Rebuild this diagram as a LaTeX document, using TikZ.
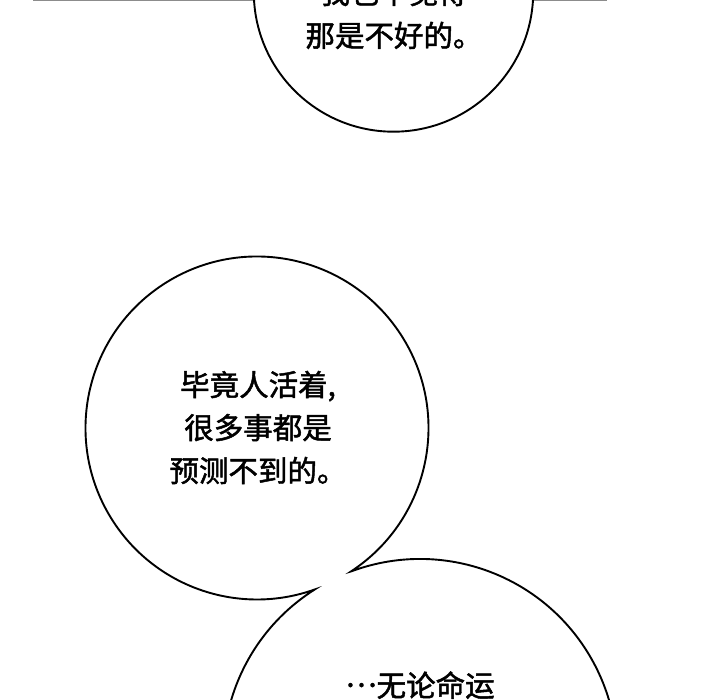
\documentclass[tikz,border=0pt]{standalone}
\usepackage{fontspec}
\newfontfamily\cjk[FakeBold=1.6]{Noto Sans CJK SC}
\begin{document}
\begin{tikzpicture}[x=1pt,y=1pt]
        \def\ra{139.7}
        \def\rb{171.5}
        \def\rc{197}
        \tikzset{bubble/.style={line width=1.9pt, miter limit=25},
                 words/.style={font=\cjk\fontsize{29.5}{43}\selectfont, align=center}}
        \useasboundingbox (0,0) rectangle (720,700);
        \draw [black!45, line width=1.4pt] (33,699.3) -- (607,699.3);
        \begin{scope}
        \clip (0,0) rectangle (720,700);
        \filldraw [bubble, fill=white] (393.5,708) circle (\ra);
        % the two lower bubbles share one outline
        \draw [bubble] (350.9,128.5) arc[start angle=-56.8, end angle=289.7, radius=\rb]
              arc[start angle=122.3, end angle=470.5, radius=\rc] -- cycle;
        \end{scope}
        \node (topText) [words] at (394,686) {我也不觉得\\那是不好的。};
        \node (midText) [words] at (258,272.5) {毕竟人活着,\\很多事都是\\预测不到的。};
        \node (lowText) [words, anchor=base] at (420,3.5) {\raisebox{0.33em}{…}无论命运};
    \end{tikzpicture}
\end{document}
